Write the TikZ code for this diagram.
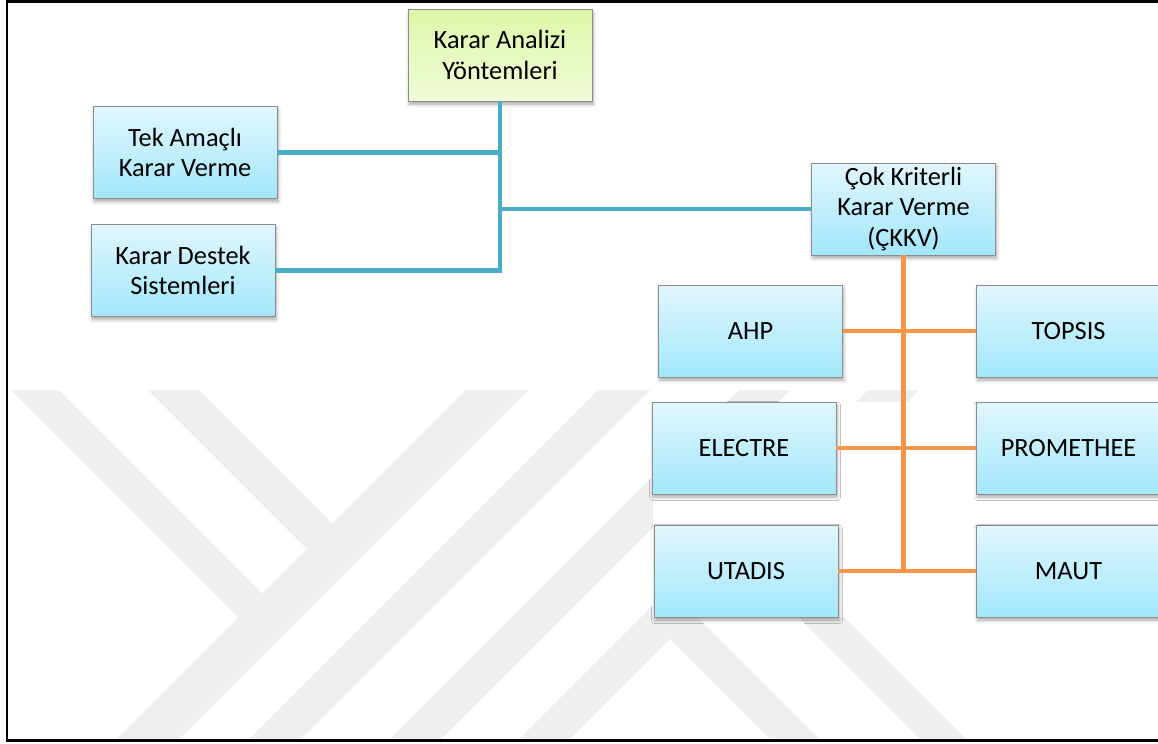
\documentclass[tikz,border=0pt]{standalone}
\usepackage{fontspec}
\setmainfont{Carlito}
\usetikzlibrary{shadows.blur}

\definecolor{boxtop}{RGB}{225,246,253}
\definecolor{boxbot}{RGB}{162,231,250}
\definecolor{roottop}{RGB}{222,247,168}
\definecolor{rootbot}{RGB}{240,251,216}
\definecolor{linkblue}{RGB}{75,172,198}
\definecolor{linkorange}{RGB}{247,150,70}
\definecolor{wmark}{RGB}{239,239,239}

\begin{document}
\begin{tikzpicture}[x=0.02cm, y=-0.02cm]
  \tikzset{
    box/.style={draw=black!45, line width=0.5pt, top color=boxtop, bottom color=boxbot, minimum width=3.68cm, minimum height=1.84cm, align=center, inner sep=2pt, font=\fontsize{15}{17.5}\selectfont, blur shadow={shadow xshift=0.6pt, shadow yshift=-1.8pt, shadow blur radius=2pt, shadow opacity=35}},
    rootbox/.style={box, top color=roottop, bottom color=rootbot},
    bluelink/.style={draw=linkblue, line width=2.8pt},
    orangelink/.style={draw=linkorange, line width=2.8pt}
  }
  \useasboundingbox (0,0) rectangle (1158,743);

  % Background bands
  \begin{scope}
    \clip (7,390) rectangle (1158,740);
    \fill[wmark] (11,390) -- (59,390) -- (274.5,605.5) -- (250.5,629.5) -- cycle;
    \fill[wmark] (148,390) -- (199,390) -- (344.5,535.5) -- (319,561) -- cycle;
    \fill[wmark] (466,390) -- (528,390) -- (178,740) -- (116,740) -- cycle;
    \fill[wmark] (598,390) -- (650,390) -- (300,740) -- (248,740) -- cycle;
    \fill[wmark] (739,390) -- (790,390) -- (440,740) -- (389,740) -- cycle;
    \fill[wmark] (868,390) -- (919,390) -- (569,740) -- (518,740) -- cycle;
    \fill[wmark] (660.5,629.5) -- (685,605) -- (820,740) -- (771,740) -- cycle;
    \fill[wmark] (735.5,554.5) -- (758.5,531.5) -- (967,740) -- (921,740) -- cycle;
  \end{scope}
  \fill[white] (653,402) rectangle (1160,617);

  % Frame
  \draw[line width=1.2pt] (1170,1.5) -- (7,1.5) -- (7,740.5) -- (1170,740.5);

  % Top level
  \node[rootbox] (root) at (500,55) {Karar Analizi\\Yöntemleri};
  \node[box] (tek) at (185,152.5) {Tek Amaçlı\\Karar Verme};
  \node[box] (kds) at (183,270.5) {Karar Destek\\Sistemleri};
  \node[box] (ckkv) at (903.5,209) {Çok Kriterli\\Karar Verme\\(ÇKKV)};

  % Methods
  \node[box] (ahp) at (750.5,331) {AHP};
  \node[box] (topsis) at (1068.5,331) {TOPSIS};
  \node[box] (electre) at (744,448) {ELECTRE};
  \node[box] (promethee) at (1068.5,448) {PROMETHEE};
  \node[box] (utadis) at (746,571) {UTADIS};
  \node[box] (maut) at (1068.5,571) {MAUT};

  % Links
  \draw[bluelink] (root.south) -- (root |- kds.east) -- (kds.east);
  \draw[bluelink] (tek.east) -- (tek.east -| root);
  \draw[bluelink] (root |- ckkv.west) -- (ckkv.west);

  \draw[orangelink] (ckkv.south) -- (ckkv.south |- utadis.east);
  \foreach \l/\r in {ahp/topsis, electre/promethee, utadis/maut}
    \draw[orangelink] (\l.east) -- (\r.west);

\end{tikzpicture}
\end{document}
